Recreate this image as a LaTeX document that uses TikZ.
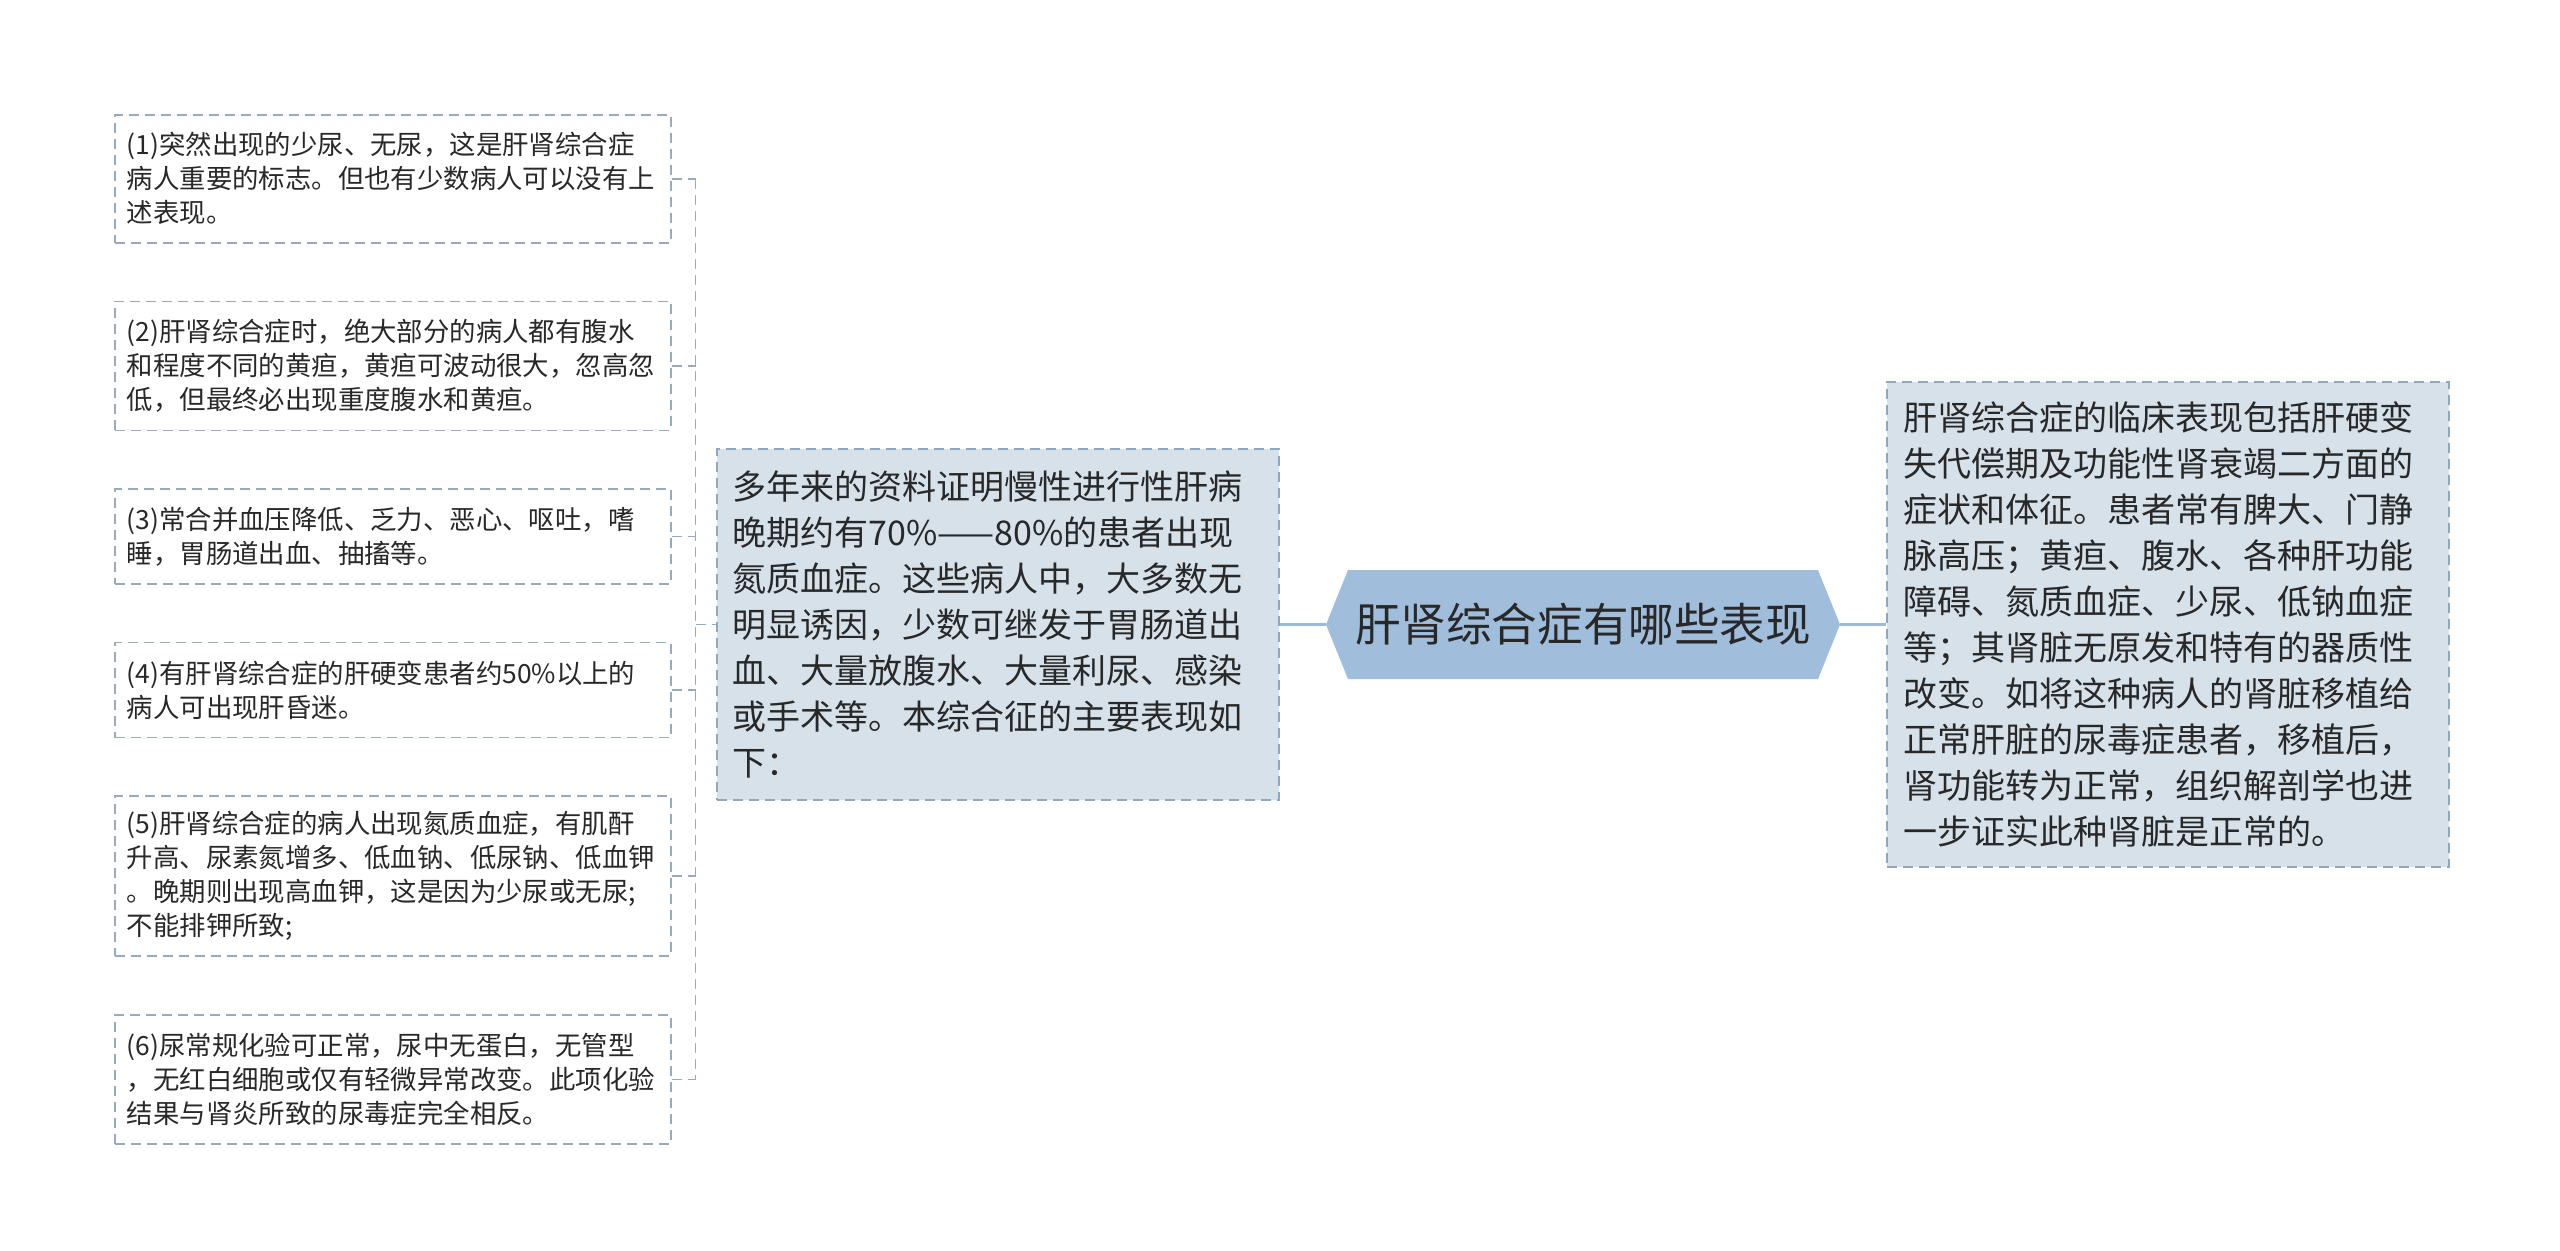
\documentclass[tikz,border=0pt]{standalone}
\usepackage{fontspec}
\setmainfont{Noto Sans CJK SC}
\usetikzlibrary{positioning,shapes.symbols}

\definecolor{hubblue}{RGB}{160,190,220}
\definecolor{trunkblue}{RGB}{158,185,212}
\definecolor{panelfill}{RGB}{214,225,234}
\definecolor{panelline}{RGB}{141,168,195}
\definecolor{itemline}{RGB}{150,172,190}
\definecolor{ink}{RGB}{40,40,40}

\tikzset{
  item/.style={draw=itemline, dash pattern=on 5pt off 3pt, line width=0.8pt,
    fill=white, text=ink, align=left, text width=266pt, inner xsep=6pt,
    inner ysep=3pt, minimum height=#1, font=\fontsize{13.2}{17}\selectfont},
  panel/.style={draw=panelline, dash pattern=on 5pt off 3pt, line width=0.8pt,
    fill=panelfill, text=ink, align=left, text width=265pt, inner xsep=8pt,
    inner ysep=3pt, minimum height=#1, font=\fontsize{17}{23}\selectfont},
  hubnode/.style={signal, signal to=west and east, signal pointer angle=136,
    fill=hubblue, text=ink, inner xsep=3.5pt, minimum width=242pt,
    minimum height=54.5pt, font=\fontsize{22.8}{28}\selectfont},
  link/.style={draw=itemline, dash pattern=on 5pt off 3pt, line width=0.8pt},
  trunk/.style={draw=trunkblue, line width=1.5pt},
}

\begin{document}
\begin{tikzpicture}[x=0.5pt, y=-0.5pt]
    \path[use as bounding box, fill=white] (0,0) rectangle (2560,1250);

    % centre and the two text panels
    \node[hubnode] (main) at (1583,624.5) {肝肾综合症有哪些表现};
    \node[panel=175.5pt, left=23pt of main] (mid) {多年来的资料证明慢性进行性肝病\\晚期约有70\%——80\%的患者出现\\氮质血症。这些病人中，大多数无\\明显诱因，少数可继发于胃肠道出\\血、大量放腹水、大量利尿、感染\\或手术等。本综合征的主要表现如\\下：};
    \node[panel=242.5pt, right=23pt of main] (side) {肝肾综合症的临床表现包括肝硬变\\失代偿期及功能性肾衰竭二方面的\\症状和体征。患者常有脾大、门静\\脉高压；黄疸、腹水、各种肝功能\\障碍、氮质血症、少尿、低钠血症\\等；其肾脏无原发和特有的器质性\\改变。如将这种病人的肾脏移植给\\正常肝脏的尿毒症患者，移植后，\\肾功能转为正常，组织解剖学也进\\一步证实此种肾脏是正常的。};

    % the six items on the left
    \node[item=64pt, anchor=north west] (b1) at (114,114) {(1)突然出现的少尿、无尿，这是肝肾综合症\\病人重要的标志。但也有少数病人可以没有上\\述表现。};
    \node[item=64.5pt, below=28.5pt of b1] (b2) {(2)肝肾综合症时，绝大部分的病人都有腹水\\和程度不同的黄疸，黄疸可波动很大，忽高忽\\低，但最终必出现重度腹水和黄疸。};
    \node[item=47.5pt, below=28.5pt of b2] (b3) {(3)常合并血压降低、乏力、恶心、呕吐，嗜\\睡，胃肠道出血、抽搐等。};
    \node[item=47.5pt, below=28.5pt of b3] (b4) {(4)有肝肾综合症的肝硬变患者约50\%以上的\\病人可出现肝昏迷。};
    \node[item=80pt, below=28.5pt of b4] (b5) {(5)肝肾综合症的病人出现氮质血症，有肌酐\\升高、尿素氮增多、低血钠、低尿钠、低血钾\\。晚期则出现高血钾，这是因为少尿或无尿;\\不能排钾所致;};
    \node[item=64.5pt, below=28.5pt of b5] (b6) {(6)尿常规化验可正常，尿中无蛋白，无管型\\，无红白细胞或仅有轻微异常改变。此项化验\\结果与肾炎所致的尿毒症完全相反。};

    % connectors
    \draw[trunk] (main.west) -- (mid.east);
    \draw[trunk] (main.east) -- (side.west);
    \coordinate (hub) at ([xshift=12pt]b1.east);
    \foreach \i in {1,...,6}
        \draw[link] (b\i.east) -- (b\i.east -| hub);
    \draw[link] (hub) -- (hub |- b6.east);
    \draw[link] (hub |- mid.west) -- (mid.west);
\end{tikzpicture}
\end{document}
